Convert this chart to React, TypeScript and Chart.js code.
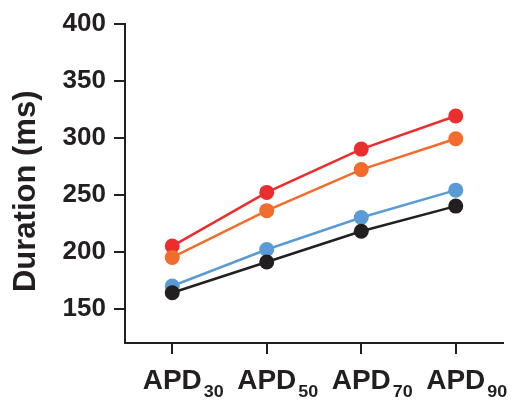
import React, { useEffect, useRef } from "react";
import { Chart, registerables } from "chart.js";

Chart.register(...registerables);

// Action potential duration by repolarisation level
const categories = ["30", "50", "70", "90"];
const redValues = [205, 252, 290, 319];
const orangeValues = [195, 236, 272, 299];
const blueValues = [170, 202, 230, 254];
const blackValues = [164, 191, 218, 240];
const yTickValues = [150, 200, 250, 300, 350, 400];
const yTitle = "Duration (ms)";

const INK = "#231F20";
const FONT = "'Liberation Sans', Arial, sans-serif";

// Draws "APD" with the percentage as a subscript under each x tick,
// plus the rotated y-axis title
const axisText = {
  id: "axisText",
  afterDraw(chart: any) {
    const { ctx } = chart;
    const x = chart.scales.x;
    const y = chart.scales.y;
    ctx.save();
    ctx.fillStyle = INK;
    ctx.textBaseline = "alphabetic";
    categories.forEach((sub, i) => {
      const px = x.getPixelForTick(i);
      ctx.font = `bold 28px ${FONT}`;
      const main = "APD";
      const w = ctx.measureText(main).width;
      const left = px - w / 2;
      ctx.textAlign = "left";
      ctx.fillText(main, left, 389);
      ctx.save();
      ctx.translate(left + w + 2, 397);
      ctx.scale(1.12, 1);
      ctx.font = `bold 16px ${FONT}`;
      ctx.fillText(sub, 0, 0);
      ctx.restore();
    });
    ctx.save();
    ctx.translate(35, (y.top + y.bottom) / 2 + 8);
    ctx.rotate(-Math.PI / 2);
    ctx.textAlign = "center";
    ctx.font = `bold 31px ${FONT}`;
    ctx.fillText(yTitle, 0, 0);
    ctx.restore();
    ctx.restore();
  },
};

export default function App() {
  const ref = useRef<HTMLCanvasElement>(null);

  useEffect(() => {
    if (!ref.current) return;
    const mk = (data: number[], color: string) => ({
      data,
      borderColor: color,
      backgroundColor: color,
      pointBackgroundColor: color,
      pointBorderWidth: 0,
      pointRadius: 7.5,
      borderWidth: 2.5,
      tension: 0,
    });
    const chart = new Chart(ref.current, {
      type: "line",
      data: {
        labels: categories.map((c) => "APD" + c),
        datasets: [
          mk(blackValues, INK),
          mk(blueValues, "#5B9BD5"),
          mk(orangeValues, "#F26C2B"),
          mk(redValues, "#EC2D2E"),
        ],
      },
      options: {
        animation: false,
        responsive: false,
        devicePixelRatio: 1,
        layout: { padding: { left: 0, right: 16, top: 21, bottom: 0 } },
        plugins: { legend: { display: false }, tooltip: { enabled: false } },
        scales: {
          x: {
            type: "category",
            offset: true,
            border: { display: true, color: INK, width: 2 },
            grid: {
              display: true,
              drawOnChartArea: false,
              drawTicks: true,
              tickLength: 11,
              color: INK,
              lineWidth: 2,
              offset: false,
            },
            ticks: { display: false },
            afterFit(scale: any) {
              scale.height = 58;
            },
          },
          y: {
            min: 120,
            max: 400,
            border: { display: true, color: INK, width: 2 },
            grid: {
              display: true,
              drawOnChartArea: false,
              drawTicks: true,
              tickLength: 11,
              color: INK,
              lineWidth: 2,
            },
            afterBuildTicks(scale: any) {
              scale.ticks = yTickValues.map((v) => ({ value: v }));
            },
            ticks: {
              color: INK,
              padding: 8,
              font: { family: FONT, size: 26, weight: "bold" },
            },
            afterFit(scale: any) {
              scale.width = 125;
            },
          },
        },
      },
      plugins: [axisText],
    } as any);
    return () => chart.destroy();
  }, []);

  return (
    <div style={{ position: "fixed", left: 0, top: 0, width: 519, height: 401, background: "#fff" }}>
      <canvas ref={ref} width={519} height={401} style={{ width: 519, height: 401 }} />
    </div>
  );
}
